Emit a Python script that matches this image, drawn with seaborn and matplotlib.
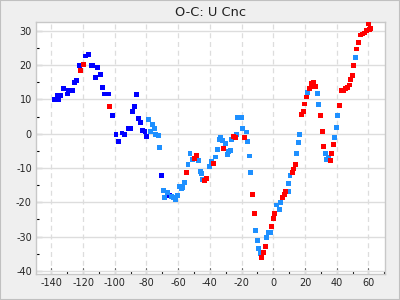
import matplotlib
matplotlib.use("Agg")
import matplotlib.pyplot as plt
import seaborn as sns
import pandas as pd
from matplotlib.ticker import MultipleLocator
from matplotlib.patches import Rectangle

# Series 1 (dark blue)
blue_x = [-138.1, -136.4, -135.4, -133.9, -132.2, -129.7, -129.3, -126.8, -125.3, -124.0,
          -122.5, -118.4, -116.8, -114.9, -113.7, -110.8, -112.0, -108.9, -107.6, -106.4,
          -104.2, -101.3, -99.2, -97.5, -95.4, -93.7, -91.6, -90.0, -88.7, -87.4,
          -86.2, -84.9, -83.7, -82.4, -80.9, -79.9, -70.4, -65.4]
blue_y = [10.1, 11.2, 10.1, 11.2, 13.2, 11.6, 12.6, 12.6, 15.0, 15.6,
          19.8, 22.7, 23.2, 20.0, 20.0, 19.4, 16.5, 17.4, 13.6, 11.6,
          11.6, 5.4, -0.1, -2.2, 0.2, -0.1, 1.6, 1.6, 6.6, 8.0,
          11.5, 4.5, 3.4, 1.0, 0.7, -0.7, -12.1, -18.0]

# Series 2 (light blue)
light_x = [-78.6, -77.4, -76.1, -74.8, -74.2, -72.3, -71.7, -69.1, -66.6, -68.5,
           -64.1, -62.8, -61.6, -60.3, -59.0, -57.8, -57.1, -55.9, -53.8, -52.5,
           -51.2, -47.3, -46.0, -45.4, -44.6, -40.1, -38.9, -36.3, -35.1, -33.8,
           -33.2, -31.9, -30.0, -28.8, -28.1, -26.9, -26.2, -23.1, -22.4, -19.9,
           -19.3, -16.8, -16.2, -14.9, -14.2, -11.1, -9.8, -9.2, -7.9, -4.1,
           -2.8, -1.5, 2.2, 4.1, 4.8, 9.4, 9.4, 10.6, 14.6, 15.8,
           16.5, 21.8, 28.1, 28.7, 40.7, 40.1, 38.8, 33.1, 33.7, 35.0,
           45.7, 52.0]
light_y = [4.2, 0.7, 2.8, 1.6, -0.1, -0.4, -4.0, -16.5, -17.1, -18.5,
           -18.2, -18.5, -19.1, -17.9, -15.3, -15.9, -15.6, -14.1, -8.9, -5.7,
           -7.4, -7.7, -10.9, -11.5, -13.4, -9.5, -8.0, -6.8, -4.5, -1.6,
           -1.0, -1.9, -2.8, -6.0, -5.1, -4.8, -1.6, -0.1, 4.8, 4.8,
           1.6, 0.5, -2.2, -6.5, -11.2, -28.1, -31.1, -33.4, -35.0, -30.2,
           -28.7, -28.7, -20.8, -22.0, -20.0, -16.8, -14.4, -12.1, -5.7, -2.5,
           -0.1, 12.1, 11.8, 8.6, 5.4, 1.9, -1.0, -5.7, -7.4, -6.9,
           13.3, 22.3]

# Series 3 (red)
red_x = [-121.5, -119.6, -103.2, -54.6, -48.3, -49.6, -43.3, -42.0, -37.6, -31.3,
         -25.0, -23.7, -18.0, -13.0, -11.7, -7.3, -6.0, -4.8, -1.0, 0.3,
         0.9, 6.0, 7.2, 7.9, 12.2, 12.8, 14.1, 17.9, 19.2, 19.8,
         21.1, 23.0, 24.3, 25.5, 26.8, 24.3, 30.0, 31.2, 31.9, 36.9,
         36.2, 38.1, 41.9, 43.2, 44.4, 45.7, 46.9, 48.2, 48.9, 50.1,
         50.8, 52.6, 53.9, 55.2, 56.4, 57.7, 59.0, 60.9, 61.5, 60.2]
red_y = [18.5, 20.3, 8.0, -11.2, -6.3, -7.1, -13.6, -13.0, -8.6, -4.2,
         -0.7, -1.0, -1.0, -17.6, -23.2, -36.0, -34.6, -32.8, -27.0, -24.6,
         -23.2, -18.5, -17.6, -16.8, -11.2, -10.3, -8.9, 5.7, 6.6, 8.7,
         10.7, 13.3, 14.7, 15.0, 13.9, 13.9, 5.4, 0.7, -3.6, -5.7,
         -7.7, -3.1, 8.3, 12.7, 12.7, 13.3, 13.6, 14.2, 15.9, 17.1,
         20.0, 24.7, 26.5, 28.8, 29.1, 29.4, 30.0, 30.3, 30.6, 32.0]

x_ticks = [-140, -120, -100, -80, -60, -40, -20, 0, 20, 40, 60]
y_ticks = [-40, -30, -20, -10, 0, 10, 20, 30]
title = "O-C: U Cnc"

df = pd.concat([
    pd.DataFrame({"x": blue_x, "y": blue_y, "s": "s1"}),
    pd.DataFrame({"x": light_x, "y": light_y, "s": "s2"}),
    pd.DataFrame({"x": red_x, "y": red_y, "s": "s3"}),
], ignore_index=True)

sns.set_theme(style="white")
plt.rcParams['font.family'] = ['DejaVu Sans']

fig = plt.figure(figsize=(4, 3), dpi=100, facecolor="#efefef")
ax = fig.add_axes([0.09, 0.0867, 0.8725, 0.84])
ax.set_facecolor("white")

sns.scatterplot(data=df, x="x", y="y", hue="s", palette={"s1": "#0000ff", "s2": "#1e90ff", "s3": "#ff0000"},
                marker="s", s=12, linewidth=0, legend=False, ax=ax, zorder=3)

ax.set_xlim(-149.7, 70.5)
ax.set_ylim(-40.9, 32.6)
ax.set_xticks(x_ticks)
ax.set_xticklabels([str(v) for v in x_ticks])
ax.set_yticks(y_ticks)
ax.set_yticklabels([str(v) for v in y_ticks])
ax.xaxis.set_minor_locator(MultipleLocator(10))
ax.yaxis.set_minor_locator(MultipleLocator(5))
ax.tick_params(which="major", direction="in", length=4, width=0.8, color="black", labelsize=7, pad=3,
               bottom=True, left=True, top=False, right=False)
ax.tick_params(which="minor", direction="in", length=2, width=0.8, color="black",
               bottom=True, left=True, top=False, right=False)
ax.grid(False)
for v in x_ticks:
    ax.axvline(v, color="#dddddd", lw=0.9, ls=(0, (4, 3)), zorder=1)
for v in y_ticks:
    ax.axhline(v, color="#dddddd", lw=1.0, zorder=1)
for sp in ax.spines.values():
    sp.set_color("#c8c8c8")
    sp.set_linewidth(1.0)
ax.set_xlabel("")
ax.set_ylabel("")
ax.set_title(title, fontsize=9.4, color="#222222", pad=4)

fig.patches.append(Rectangle((0, 0), 1, 1, transform=fig.transFigure, fill=False,
                             edgecolor="#c0c0c0", linewidth=1.5))

fig.savefig("out.png", dpi=100, facecolor=fig.get_facecolor())
